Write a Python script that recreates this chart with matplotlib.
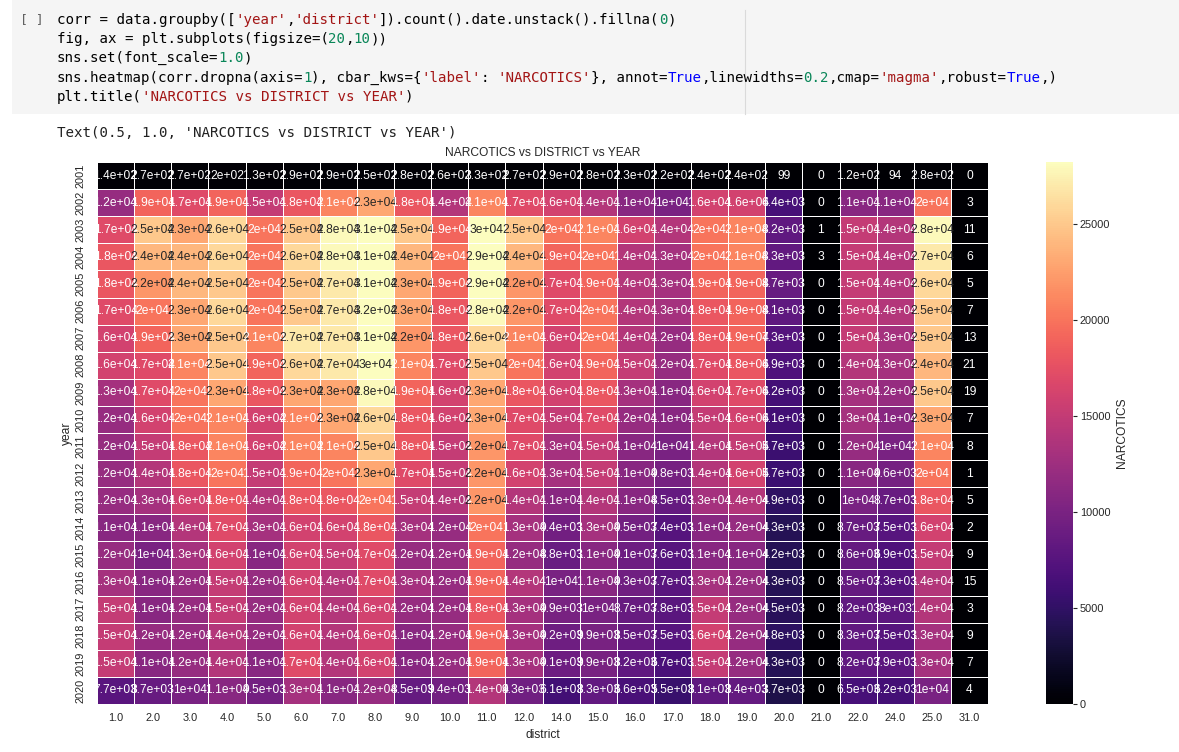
import numpy as np
import matplotlib
matplotlib.use('Agg')
import matplotlib.pyplot as plt
from matplotlib.colors import Normalize
from matplotlib.patches import Rectangle

plt.rcParams['font.family'] = ['Liberation Sans', 'DejaVu Sans']

# narcotics counts per year (rows) and district (columns)
years = list(range(2001, 2021))
districts = [1.0, 2.0, 3.0, 4.0, 5.0, 6.0, 7.0, 8.0, 9.0, 10.0, 11.0, 12.0,
             14.0, 15.0, 16.0, 17.0, 18.0, 19.0, 20.0, 21.0, 22.0, 24.0, 25.0, 31.0]

row_2001 = [140, 270, 270, 200, 130, 290, 290, 250, 280, 260, 330, 270, 290, 280, 230, 220, 240, 240, 99, 0, 120, 94, 280, 0]
row_2002 = [12000, 19000, 17000, 19000, 15000, 18000, 21000, 23000, 18000, 14000, 21000, 17000, 16000, 14000, 11000, 10000, 16000, 16000, 6400, 0, 11000, 11000, 20000, 3]
row_2003 = [17000, 25000, 23000, 26000, 20000, 25000, 28000, 31000, 25000, 19000, 30000, 25000, 20000, 21000, 16000, 14000, 20000, 21000, 8200, 1, 15000, 14000, 28000, 11]
row_2004 = [18000, 24000, 24000, 26000, 20000, 26000, 28000, 31000, 24000, 20000, 29000, 24000, 19000, 20000, 14000, 13000, 20000, 21000, 8300, 3, 15000, 14000, 27000, 6]
row_2005 = [18000, 22000, 24000, 25000, 20000, 25000, 27000, 31000, 23000, 19000, 29000, 22000, 17000, 19000, 14000, 13000, 19000, 19000, 8700, 0, 15000, 14000, 26000, 5]
row_2006 = [17000, 20000, 23000, 26000, 20000, 25000, 27000, 32000, 23000, 18000, 28000, 22000, 17000, 20000, 14000, 13000, 18000, 19000, 8100, 0, 15000, 14000, 25000, 7]
row_2007 = [16000, 19000, 23000, 25000, 21000, 27000, 27000, 31000, 22000, 18000, 26000, 21000, 16000, 20000, 14000, 12000, 18000, 19000, 7300, 0, 15000, 13000, 25000, 13]
row_2008 = [16000, 17000, 21000, 25000, 19000, 26000, 27000, 30000, 21000, 17000, 25000, 20000, 16000, 19000, 15000, 12000, 17000, 18000, 6900, 0, 14000, 13000, 24000, 21]
row_2009 = [13000, 17000, 20000, 23000, 18000, 23000, 23000, 28000, 19000, 16000, 23000, 18000, 16000, 18000, 13000, 11000, 16000, 17000, 6200, 0, 13000, 12000, 25000, 19]
row_2010 = [12000, 16000, 20000, 21000, 16000, 21000, 23000, 26000, 18000, 16000, 23000, 17000, 15000, 17000, 12000, 11000, 15000, 16000, 6100, 0, 13000, 11000, 23000, 7]
row_2011 = [12000, 15000, 18000, 21000, 16000, 21000, 21000, 25000, 18000, 15000, 22000, 17000, 13000, 15000, 11000, 10000, 14000, 15000, 5700, 0, 12000, 10000, 21000, 8]
row_2012 = [12000, 14000, 18000, 20000, 15000, 19000, 20000, 23000, 17000, 15000, 22000, 16000, 13000, 15000, 11000, 9800, 14000, 16000, 5700, 0, 11000, 9600, 20000, 1]
row_2013 = [12000, 13000, 16000, 18000, 14000, 18000, 18000, 20000, 15000, 14000, 22000, 14000, 11000, 14000, 11000, 8500, 13000, 14000, 4900, 0, 10000, 8700, 18000, 5]
row_2014 = [11000, 11000, 14000, 17000, 13000, 16000, 16000, 18000, 13000, 12000, 20000, 13000, 9400, 13000, 9500, 7400, 11000, 12000, 4300, 0, 8700, 7500, 16000, 2]
row_2015 = [12000, 10000, 13000, 16000, 11000, 16000, 15000, 17000, 12000, 12000, 19000, 12000, 8800, 11000, 9100, 7600, 11000, 11000, 4200, 0, 8600, 6900, 15000, 9]
row_2016 = [13000, 11000, 12000, 15000, 12000, 16000, 14000, 17000, 13000, 12000, 19000, 14000, 10000, 11000, 9300, 7700, 13000, 12000, 4300, 0, 8500, 7300, 14000, 15]
row_2017 = [15000, 11000, 12000, 15000, 12000, 16000, 14000, 16000, 12000, 12000, 18000, 13000, 9900, 10000, 8700, 7800, 15000, 12000, 4500, 0, 8200, 8000, 14000, 3]
row_2018 = [15000, 12000, 12000, 14000, 12000, 16000, 14000, 16000, 11000, 12000, 19000, 13000, 9200, 9900, 8500, 7500, 16000, 12000, 4800, 0, 8300, 7500, 13000, 9]
row_2019 = [15000, 11000, 12000, 14000, 11000, 17000, 14000, 16000, 11000, 12000, 19000, 13000, 9100, 9900, 8200, 6700, 15000, 12000, 4300, 0, 8200, 7900, 13000, 7]
row_2020 = [7700, 8700, 10000, 11000, 9500, 13000, 11000, 12000, 8500, 9400, 14000, 9300, 6100, 8300, 6600, 5500, 8100, 8400, 3700, 0, 6500, 6200, 10000, 4]

counts = np.array([row_2001, row_2002, row_2003, row_2004, row_2005, row_2006, row_2007,
                   row_2008, row_2009, row_2010, row_2011, row_2012, row_2013, row_2014,
                   row_2015, row_2016, row_2017, row_2018, row_2019, row_2020], dtype=float)

# the notebook code cell above the plot
code_lines = [
    [("corr = data.groupby([", 'k'), ("'year'", 's'), (",", 'k'), ("'district'", 's'),
     ("]).count().date.unstack().fillna(", 'k'), ("0", 'n'), (")", 'k')],
    [("fig, ax = plt.subplots(figsize=(", 'k'), ("20", 'n'), (",", 'k'), ("10", 'n'), ("))", 'k')],
    [("sns.set(font_scale=", 'k'), ("1.0", 'n'), (")", 'k')],
    [("sns.heatmap(corr.dropna(axis=", 'k'), ("1", 'n'), ("), cbar_kws={", 'k'), ("'label'", 's'),
     (": ", 'k'), ("'NARCOTICS'", 's'), ("}, annot=", 'k'), ("True", 'b'), (",linewidths=", 'k'),
     ("0.2", 'n'), (",cmap=", 'k'), ("'magma'", 's'), (",robust=", 'k'), ("True", 'b'), (",)", 'k')],
    [("plt.title(", 'k'), ("'NARCOTICS vs DISTRICT vs YEAR'", 's'), (")", 'k')],
]
output_line = "Text(0.5, 1.0, 'NARCOTICS vs DISTRICT vs YEAR')"
syntax_colors = {'k': '#000000', 's': '#a31515', 'n': '#098658', 'b': '#0000ff'}

W, H = 1179, 752
PT = 0.72  # pixel -> point at dpi 100
fig = plt.figure(figsize=(W / 100, H / 100), dpi=100)
fig.patch.set_facecolor('white')

def fx(x):
    return x / W

def fy(y):
    return 1 - y / H

fig.patches.append(Rectangle((fx(12), fy(114)), 1 - fx(12), 114 / H, transform=fig.transFigure,
                             facecolor='#f5f5f5', edgecolor='none', zorder=0))
fig.add_artist(plt.Line2D([fx(745), fx(745)], [fy(10), fy(114)], color='#dadada', lw=0.8))
fig.text(fx(20), fy(20), '[ ]', family='DejaVu Sans Mono', fontsize=13 * PT, color='#616161', va='center')

# DejaVu Sans Mono advance is 1233/2048 em, so segments can be placed by character count
mono_px = 14.08
cw = mono_px * 1233 / 2048
for i, line in enumerate(code_lines):
    col = 0
    for seg, kind in line:
        lead = len(seg) - len(seg.lstrip())
        fig.text(fx(57 + (col + lead) * cw), fy(20 + i * 19.2), seg.strip(), family='DejaVu Sans Mono',
                 fontsize=mono_px * PT, color=syntax_colors[kind], va='center', ha='left')
        col += len(seg)
fig.text(fx(57), fy(133), output_line, family='DejaVu Sans Mono', fontsize=mono_px * PT, color='#212121',
         va='center', ha='left')

# heatmap
ax = fig.add_axes([fx(97), fy(704), 891 / W, 542 / H])
cax = fig.add_axes([fx(1046), fy(704), 27 / W, 542 / H])

cmap = plt.get_cmap('magma')
norm = Normalize(vmin=0, vmax=28230)
mesh = ax.pcolormesh(counts, cmap=cmap, norm=norm, edgecolors='white', linewidth=0.7)
ax.set_xlim(0, len(districts))
ax.set_ylim(len(years), 0)

def luminance(c):
    rgb = np.array(c[:3])
    rgb = np.where(rgb <= .03928, rgb / 12.92, ((rgb + .055) / 1.055) ** 2.4)
    return rgb.dot([.2126, .7152, .0722])

for r in range(len(years)):
    for c in range(len(districts)):
        v = counts[r, c]
        tc = '.15' if luminance(cmap(norm(v))) > .408 else 'w'
        ax.text(c + 0.5, r + 0.5, format(v, '.2g'), ha='center', va='center', color=tc,
                fontsize=12 * PT)

ax.set_xticks(np.arange(len(districts)) + 0.5)
ax.set_xticklabels([str(d) for d in districts])
ax.set_yticks(np.arange(len(years)) + 0.5)
ax.set_yticklabels([str(y) for y in years], rotation=90, va='center')
ax.tick_params(length=0, labelsize=11 * PT, colors='#262626')
ax.tick_params(axis='x', pad=9 * PT)
ax.tick_params(axis='y', pad=11 * PT)
for s in ax.spines.values():
    s.set_visible(False)
ax.set_xlabel('district', fontsize=12 * PT, color='#262626', labelpad=4)
ax.set_ylabel('year', fontsize=12 * PT, color='#262626', labelpad=2)
ax.set_title('NARCOTICS vs DISTRICT vs YEAR', fontsize=12 * PT, color='#262626', pad=6 * PT)

cb = fig.colorbar(mesh, cax=cax)
cb.outline.set_visible(False)
cb.set_ticks([0, 5000, 10000, 15000, 20000, 25000])
cax.tick_params(length=4 * PT, width=0.8, labelsize=11 * PT, colors='#262626', pad=3 * PT)
cb.set_label('NARCOTICS', fontsize=12 * PT, color='#262626', labelpad=4)

fig.savefig('out.png', dpi=100)
